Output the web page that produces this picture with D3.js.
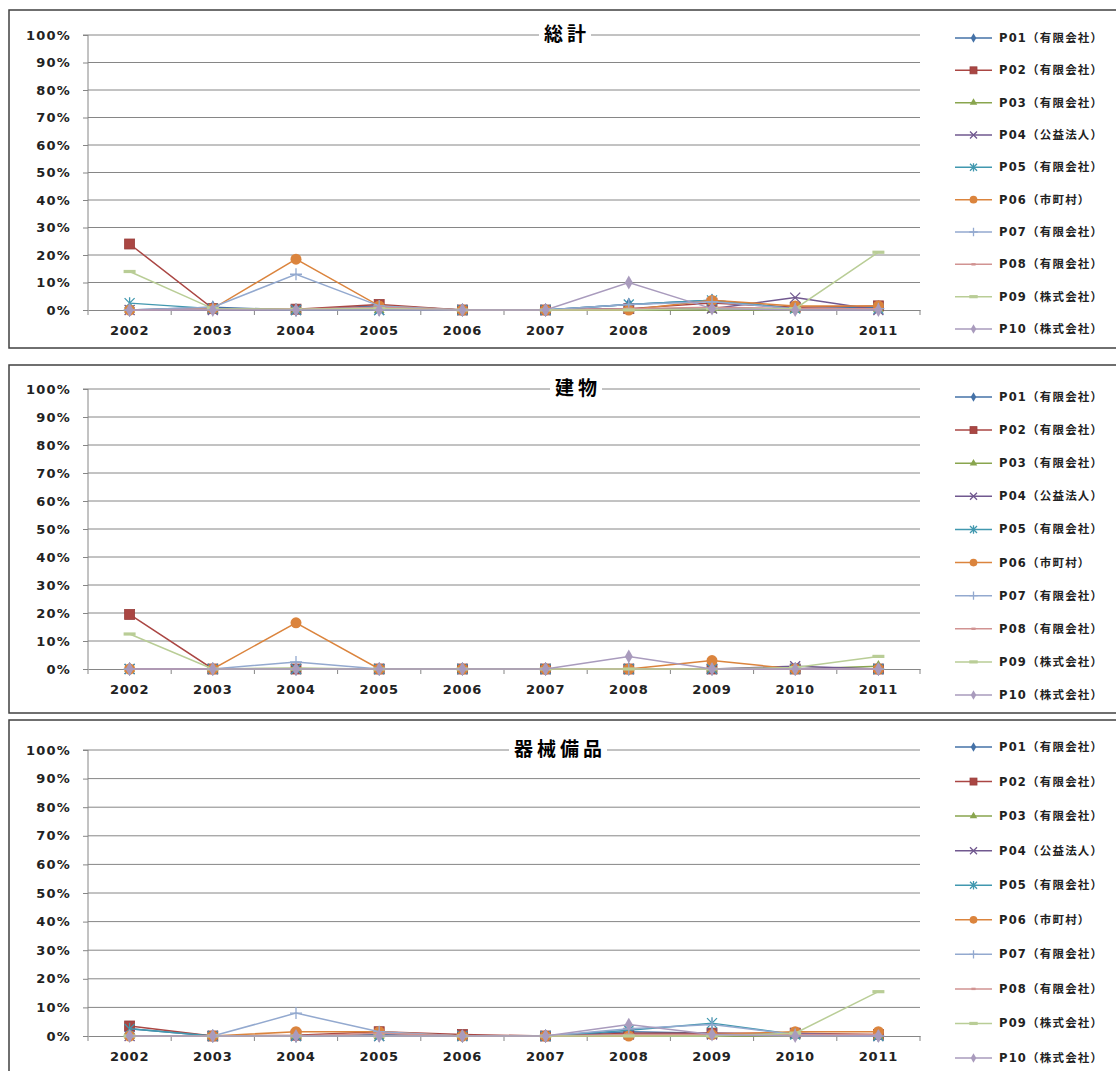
<!DOCTYPE html>
<html><head><meta charset="utf-8">
<script src="https://cdn.jsdelivr.net/npm/d3@7"></script>
<style>body{margin:0;background:#fff}svg{display:block}</style>
</head><body>
<svg id="c" width="1116" height="1071"></svg>
<script>
const years = ['2002','2003','2004','2005','2006','2007','2008','2009','2010','2011'];
const seriesNames = ['P01（有限会社）','P02（有限会社）','P03（有限会社）','P04（公益法人）','P05（有限会社）','P06（市町村）','P07（有限会社）','P08（有限会社）','P09（株式会社）','P10（株式会社）'];
const yTicks = [0,10,20,30,40,50,60,70,80,90,100];
const panelTitles = ['総計','建物','器械備品'];

const totalValues = [
  [0, 1, 0, 1.5, 0, 0, 2, 3.5, 0.5, 1],
  [24, 0.5, 0.3, 2, 0, 0, 0.5, 2.5, 1, 1.5],
  [0, 0, 0, 0, 0, 0, 0, 0, 0, 0.5],
  [0, 0, 0, 0, 0, 0, 0.5, 0.5, 4.5, 0],
  [2.5, 0.5, 0, 0, 0, 0, 2, 3.5, 0.5, 0.5],
  [0, 0.5, 18.5, 1.5, 0, 0, 0, 3.5, 1.5, 1.5],
  [0, 1, 13, 1.5, 0, 0, 2, 3, 0.5, 0.5],
  [0, 0.3, 0.3, 1, 0, 0, 0.5, 1, 0.5, 0.5],
  [14, 0.5, 0.3, 0.5, 0, 0, 0, 0.5, 0.5, 21],
  [0, 0, 0, 0, 0, 0, 10, 0.5, 0, 0]
];
const buildingValues = [
  [0,0,0,0,0,0,0,0,0,0],
  [19.5,0,0,0,0,0,0,0,0,0],
  [0,0,0.3,0,0,0,0,0,0,1],
  [0,0,0,0,0,0,0,0,1,0],
  [0,0,0,0,0,0,0,0,0,0],
  [0,0,16.5,0,0,0,0,3,0,0],
  [0,0,2.5,0,0,0,0,0,0,0],
  [0,0,0,0,0,0,0,0,0,0],
  [12.5,0,0,0,0,0,0,0,0.5,4.5],
  [0,0,0,0,0,0,4.5,0,0,0]
];
const equipmentValues = [
  [2.5,0,0,0.5,0,0,1.5,1,0.5,0.3],
  [3.5,0,0.3,1.5,0.5,0,1,1,1,0.5],
  [0,0,0,0,0,0,0,0,0,0],
  [0,0,0,0,0,0,0.5,0.5,1,0],
  [2.5,0,0,0,0,0,2,4.5,0.5,0],
  [0,0,1.5,1.5,0,0,0,0.5,1.5,1.5],
  [0,0,8,1.5,0,0,2.5,4,0.5,0],
  [0,0,0,1,0,0,0.5,0.5,0.5,0.5],
  [0,0,0,0,0,0,0,0,1,15.5],
  [0,0,0,0,0,0,4,0.5,0,0]
];
const colors = ['#4572A7','#AA4643','#89A54E','#71588F','#4198AF','#DB843D','#93A9CF','#D19392','#B9CD96','#A99BBD'];
const markerTypes = ['diamond','square','triangle','x','star','circle','plus','dash','bar','diamond'];

const panels = [
  {values: totalValues, top: 10, bottom: 348, y100: 35, y0: 310, legTop: 38, legBottom: 329, titleX: 565},
  {values: buildingValues, top: 365, bottom: 713, y100: 389, y0: 669, legTop: 397, legBottom: 695, titleX: 576},
  {values: equipmentValues, top: 720, bottom: 1090, y100: 750, y0: 1036, legTop: 747, legBottom: 1058, titleX: 558}
];

const svg = d3.select('#c');
const x = d3.scaleBand().domain(years).range([88, 920]);
const font = '"DejaVu Sans", Verdana, sans-serif';

function drawMarker(g, type, cx, cy, color, s) {
  const k = s;
  switch (type) {
    case 'diamond':
      g.append('path').attr('d', d3.symbol(d3.symbolDiamond, 55*k*k)()).attr('transform', `translate(${cx},${cy})`).attr('fill', color);
      break;
    case 'square':
      g.append('rect').attr('x', cx-5*k).attr('y', cy-5*k).attr('width', 10*k).attr('height', 10*k).attr('fill', color).attr('stroke', d3.color(color).darker(0.3)).attr('stroke-width', 0.8);
      break;
    case 'triangle':
      g.append('path').attr('d', d3.symbol(d3.symbolTriangle, 50*k*k)()).attr('transform', `translate(${cx},${cy})`).attr('fill', color);
      break;
    case 'circle':
      g.append('circle').attr('cx', cx).attr('cy', cy).attr('r', 5.5*k).attr('fill', color);
      break;
    case 'x':
      g.append('path').attr('d', `M${cx-5*k},${cy-5*k}L${cx+5*k},${cy+5*k}M${cx-5*k},${cy+5*k}L${cx+5*k},${cy-5*k}`).attr('stroke', color).attr('stroke-width', 1.3);
      break;
    case 'star':
      g.append('path').attr('d', `M${cx-5*k},${cy-5*k}L${cx+5*k},${cy+5*k}M${cx-5*k},${cy+5*k}L${cx+5*k},${cy-5*k}M${cx},${cy-6*k}L${cx},${cy+6*k}`).attr('stroke', color).attr('stroke-width', 1.3);
      break;
    case 'plus':
      g.append('path').attr('d', `M${cx-6*k},${cy}L${cx+6*k},${cy}M${cx},${cy-6*k}L${cx},${cy+6*k}`).attr('stroke', color).attr('stroke-width', 1.3);
      break;
    case 'dash':
      g.append('rect').attr('x', cx-3*k).attr('y', cy-1.2).attr('width', 6*k).attr('height', 2.4).attr('fill', color);
      break;
    case 'bar':
      g.append('rect').attr('x', cx-6*k).attr('y', cy-1.6).attr('width', 12*k).attr('height', 3.2).attr('fill', color);
      break;
  }
}

panels.forEach((p, pi) => {
  const g = svg.append('g');
  g.append('rect').attr('x', 9).attr('y', p.top).attr('width', 1130).attr('height', p.bottom - p.top)
    .attr('fill', '#fff').attr('stroke', '#404040').attr('stroke-width', 1.5);

  const y = d3.scaleLinear().domain([0, 100]).range([p.y0, p.y100]);

  // gridlines
  g.append('g').selectAll('line').data(yTicks.slice(1)).join('line')
    .attr('x1', 88).attr('x2', 920).attr('y1', d => y(d)).attr('y2', d => y(d))
    .attr('stroke', '#868686').attr('stroke-width', 1);

  // y axis
  const ya = g.append('g').attr('transform', 'translate(88,0)')
    .call(d3.axisLeft(y).tickValues(yTicks).tickSize(5).tickFormat(d => d + '%'));
  ya.select('.domain').attr('stroke', '#868686').attr('d', `M-5,${y(100)}H0V${y(0)}`);
  ya.selectAll('.tick line').attr('stroke', '#868686');
  ya.selectAll('text').attr('x', -17).attr('fill', '#222').style('font', `bold 13px ${font}`).style('letter-spacing', '1.2px');

  // x axis
  const xa = g.append('g').attr('transform', `translate(0,${y(0)})`)
    .call(d3.axisBottom(x).tickSize(0).tickPadding(16));
  xa.select('.domain').attr('stroke', '#868686');
  xa.selectAll('text').attr('fill', '#222').attr('dx', 0).style('font', `bold 13px ${font}`).style('letter-spacing', '0.8px');
  const bounds = years.map(d => x(d)).concat([x.range()[1]]);
  g.append('g').selectAll('line').data(bounds).join('line')
    .attr('x1', d => d).attr('x2', d => d).attr('y1', y(0)).attr('y2', y(0) + 5)
    .attr('stroke', '#868686');

  // series
  const line = d3.line().x((d, i) => x(years[i]) + x.bandwidth() / 2).y(d => y(d));
  p.values.forEach((vals, si) => {
    const sg = g.append('g');
    sg.append('path').attr('d', line(vals)).attr('fill', 'none').attr('stroke', colors[si]).attr('stroke-width', 1.5);
    vals.forEach((v, i) => drawMarker(sg, markerTypes[si], x(years[i]) + x.bandwidth() / 2, y(v), colors[si], 1));
  });

  // title
  const tt = g.append('text').attr('x', p.titleX + 2).attr('y', p.y100 + 6).attr('text-anchor', 'middle')
    .style('font', `bold 19px "Noto Sans CJK JP", sans-serif`).style('letter-spacing', '4px').attr('fill', '#000').text(panelTitles[pi]);
  const bb = tt.node().getBBox();
  g.insert('rect', () => tt.node()).attr('x', bb.x - 5).attr('y', bb.y).attr('width', bb.width + 6).attr('height', bb.height).attr('fill', '#fff');

  // legend
  const ly = d3.scalePoint().domain(seriesNames).range([p.legTop, p.legBottom]);
  seriesNames.forEach((name, si) => {
    const lg = g.append('g');
    const cy = ly(name);
    lg.append('line').attr('x1', 955).attr('x2', 992).attr('y1', cy).attr('y2', cy).attr('stroke', colors[si]).attr('stroke-width', 1.5);
    drawMarker(lg, markerTypes[si], 973.5, cy, colors[si], 0.7);
    lg.append('text').attr('x', 999).attr('y', cy + 4).attr('fill', '#222')
      .style('font', `bold 11.5px "DejaVu Sans", "Noto Sans CJK JP", sans-serif`).style('letter-spacing', '1.2px').text(name);
  });
});
</script>
</body></html>
